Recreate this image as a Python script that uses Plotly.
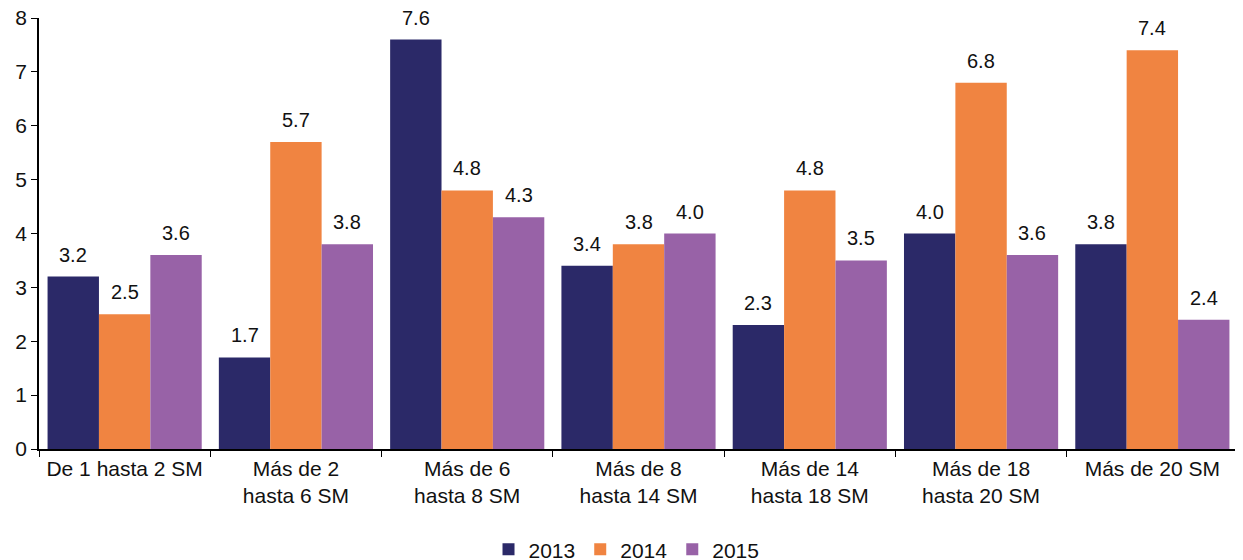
import plotly.graph_objects as go

categories = ["De 1 hasta 2 SM", "Más de 2<br>hasta 6 SM", "Más de 6<br>hasta 8 SM",
              "Más de 8<br>hasta 14 SM", "Más de 14<br>hasta 18 SM", "Más de 18<br>hasta 20 SM",
              "Más de 20 SM"]
years = ["2013", "2014", "2015"]
v2013 = [3.2, 1.7, 7.6, 3.4, 2.3, 4.0, 3.8]
v2014 = [2.5, 5.7, 4.8, 3.8, 4.8, 6.8, 7.4]
v2015 = [3.6, 3.8, 4.3, 4.0, 3.5, 3.6, 2.4]
colors = ["#2B2968", "#F08441", "#9862A7"]

FONT = "Liberation Sans, Arial, sans-serif"
BARGAP = 0.1
fig = go.Figure()
series = [v2013, v2014, v2015]
bw = (1 - BARGAP) / len(series)
annotations = []
for k, (name, vals, c) in enumerate(zip(years, series, colors)):
    fig.add_trace(go.Bar(
        x=categories, y=vals, name=name, marker=dict(color=c, line=dict(width=0)),
    ))
    off = (k - (len(series) - 1) / 2) * bw
    for i, v in enumerate(vals):
        annotations.append(dict(
            x=i + off, y=v, xref="x", yref="y", text=f"{v:.1f}", showarrow=False,
            yanchor="bottom", yshift=9, font=dict(size=20, color="#111111", family=FONT),
        ))

# the page body has an 8px default margin, so the figure is offset by 8px
fig.update_layout(
    width=1243, height=560,
    margin=dict(l=31, r=13, t=10, b=119, autoexpand=False),
    paper_bgcolor="white", plot_bgcolor="white",
    barmode="group", bargap=BARGAP, bargroupgap=0,
    font=dict(family=FONT, size=21, color="#111111"),
    showlegend=True,
    legend=dict(orientation="h", x=0.49, xanchor="center", y=-0.186, yanchor="top",
                font=dict(size=21), itemwidth=30),
    xaxis=dict(showline=True, linecolor="black", linewidth=1.5, ticks="outside",
               tickson="boundaries", ticklen=6, tickcolor="black", automargin=False,
               tickfont=dict(size=21), showgrid=False, ticklabeloverflow="allow"),
    yaxis=dict(range=[0, 8], dtick=1, showline=True, linecolor="black", linewidth=1.5,
               ticks="outside", ticklen=6, tickcolor="black", showgrid=False, automargin=False,
               zeroline=False, tickfont=dict(size=21), ticklabeloverflow="allow"),
    annotations=annotations,
)
fig.write_html("out.html")
